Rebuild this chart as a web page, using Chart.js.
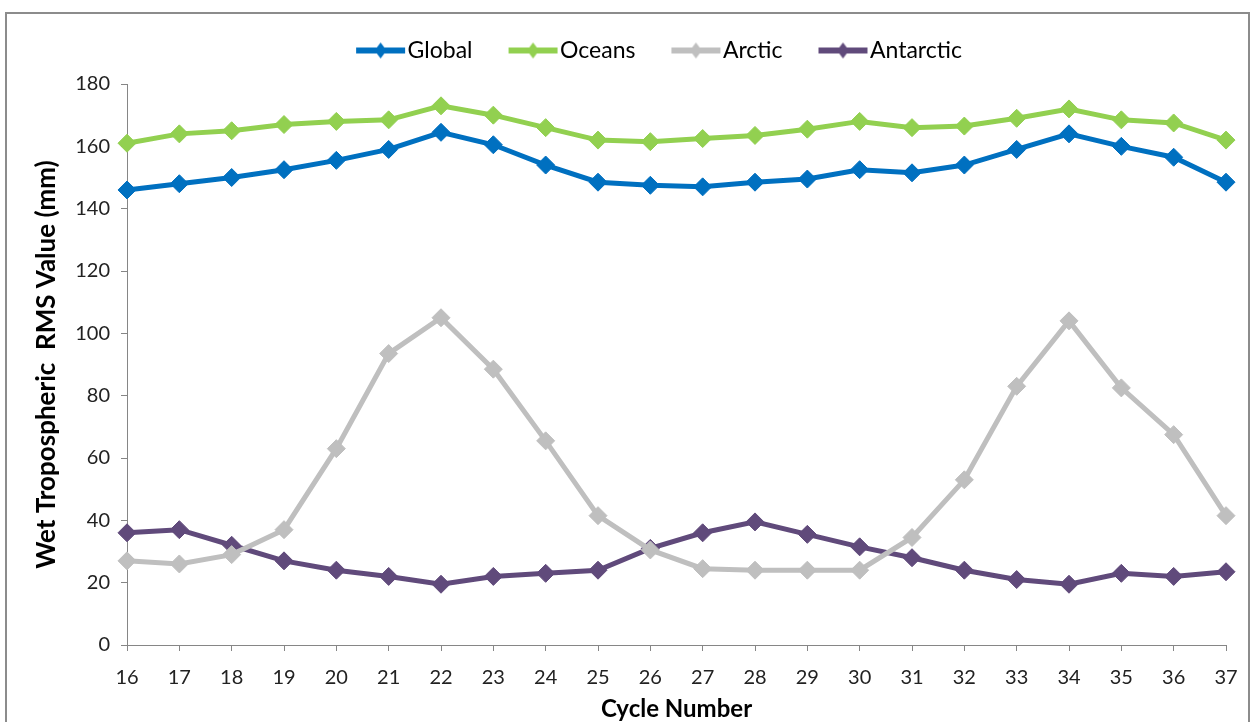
<!DOCTYPE html>
<html>
<head>
<meta charset="utf-8">
<script src="https://cdn.jsdelivr.net/npm/chart.js@4.4.1/dist/chart.umd.min.js"></script>
<style>
  html, body { margin: 0; padding: 0; background: #fff; width: 1258px; height: 722px; overflow: hidden; }
  #frame { position: absolute; left: 5px; top: 12px; width: 1245px; height: 720px; border: 2px solid #8c8c8c; border-bottom: none; box-sizing: border-box; }
  #wrap { position: absolute; left: 0; top: 0; width: 1258px; height: 722px; }
</style>
</head>
<body>
<div id="frame"></div>
<div id="wrap"><canvas id="c" width="1258" height="722"></canvas></div>
<script>
const cycles = ['16','17','18','19','20','21','22','23','24','25','26','27','28','29','30','31','32','33','34','35','36','37'];
const globalVals    = [146, 148, 150, 152.5, 155.5, 159, 164.5, 160.5, 154, 148.5, 147.5, 147, 148.5, 149.5, 152.5, 151.5, 154, 159, 164, 160, 156.5, 148.5];
const oceansVals    = [161, 164, 165, 167, 168, 168.5, 173, 170, 166, 162, 161.5, 162.5, 163.5, 165.5, 168, 166, 166.5, 169, 172, 168.5, 167.5, 162];
const arcticVals    = [27, 26, 29, 37, 63, 93.5, 105, 88.5, 65.5, 41.5, 30.5, 24.5, 24, 24, 24, 34.5, 53, 83, 104, 82.5, 67.5, 41.5];
const antarcticVals = [36, 37, 32, 27, 24, 22, 19.5, 22, 23, 24, 31, 36, 39.5, 35.5, 31.5, 28, 24, 21, 19.5, 23, 22, 23.5];
const yTicks = [0, 20, 40, 60, 80, 100, 120, 140, 160, 180];

const seriesNames = ['Global', 'Oceans', 'Arctic', 'Antarctic'];
const seriesColors = ['#0070C0', '#92D050', '#BFBFBF', '#604A7B'];
const seriesData = [globalVals, oceansVals, arcticVals, antarcticVals];

const FONT = 'Lato, "Liberation Sans", sans-serif';
const LEG_W = 66;       // legend box width used by Chart.js
const ICON_IMG_W = 86;  // image width (icon drawn in its rightmost 50px)

function legendIcon(color) {
  const cv = document.createElement('canvas');
  cv.width = ICON_IMG_W; cv.height = 18;
  const g = cv.getContext('2d');
  const x0 = ICON_IMG_W - 50, x1 = ICON_IMG_W - 1, cx = (x0 + x1) / 2;
  g.strokeStyle = color; g.lineWidth = 6;
  g.beginPath(); g.moveTo(x0, 9); g.lineTo(x1, 9); g.stroke();
  g.fillStyle = color;
  g.beginPath(); g.moveTo(cx, 1); g.lineTo(cx + 6, 9); g.lineTo(cx, 17); g.lineTo(cx - 6, 9); g.closePath(); g.fill();
  return cv;
}

const legendTweak = {
  id: 'legendTweak',
  beforeLayout(chart) {
    const lg = chart.legend;
    if (lg && !lg._tweaked) {
      const f = lg.fit;
      lg.fit = function () { f.call(this); this.height += 12; };
      lg._tweaked = true;
    }
  },
  afterLayout(chart) {
    const lg = chart.legend;
    if (lg) { lg.left += 19; lg.right += 19; }
  }
};

const datasets = seriesNames.map((name, i) => ({
  label: name,
  data: seriesData[i],
  borderColor: seriesColors[i],
  backgroundColor: seriesColors[i],
  borderWidth: 5,
  pointStyle: 'rectRot',
  pointRadius: 9,
  pointHoverRadius: 9,
  pointBorderWidth: 1,
  tension: 0,
  fill: false
}));

new Chart(document.getElementById('c'), {
  type: 'line',
  data: { labels: cycles, datasets },
  plugins: [legendTweak],
  options: {
    responsive: false,
    animation: false,
    events: [],
    layout: { padding: { top: 29, right: 32, left: 28, bottom: 0 } },
    plugins: {
      tooltip: { enabled: false },
      legend: {
        position: 'top',
        align: 'center',
        labels: {
          usePointStyle: true,
          pointStyleWidth: LEG_W,
          padding: 10,
          color: '#000',
          font: { family: FONT, size: 23 },
          generateLabels(chart) {
            return chart.data.datasets.map((ds, i) => ({
              text: ds.label,
              fillStyle: ds.borderColor,
              strokeStyle: ds.borderColor,
              lineWidth: 0,
              pointStyle: legendIcon(ds.borderColor),
              hidden: false,
              datasetIndex: i,
              fontColor: '#000'
            }));
          }
        }
      }
    },
    scales: {
      x: {
        type: 'category',
        offset: false,
        grid: { display: true, drawOnChartArea: false, drawTicks: true, tickLength: 6, color: '#868686' },
        border: { color: '#868686', width: 1 },
        ticks: { color: '#222', font: { family: FONT, size: 20 }, padding: 15, maxRotation: 0, autoSkip: false },
        title: { display: true, text: 'Cycle Number', color: '#000', font: { family: FONT, size: 24, weight: 'bold' }, padding: { top: 0, bottom: -2 } },
        afterFit(scale) { scale.height = 77; }
      },
      y: {
        min: 0, max: 180,
        afterBuildTicks(scale) { scale.ticks = yTicks.map(v => ({ value: v })); },
        grid: { display: true, drawOnChartArea: false, drawTicks: true, tickLength: 6, color: '#868686' },
        border: { color: '#868686', width: 1 },
        ticks: { color: '#222', font: { family: FONT, size: 20 }, padding: 11 },
        title: { display: true, text: 'Wet Tropospheric  RMS Value (mm)', color: '#000', font: { family: FONT, size: 26, weight: 'bold' }, padding: { top: 3, bottom: 0 } },
        afterFit(scale) { scale.width = 99; }
      }
    }
  }
});
</script>
</body>
</html>
